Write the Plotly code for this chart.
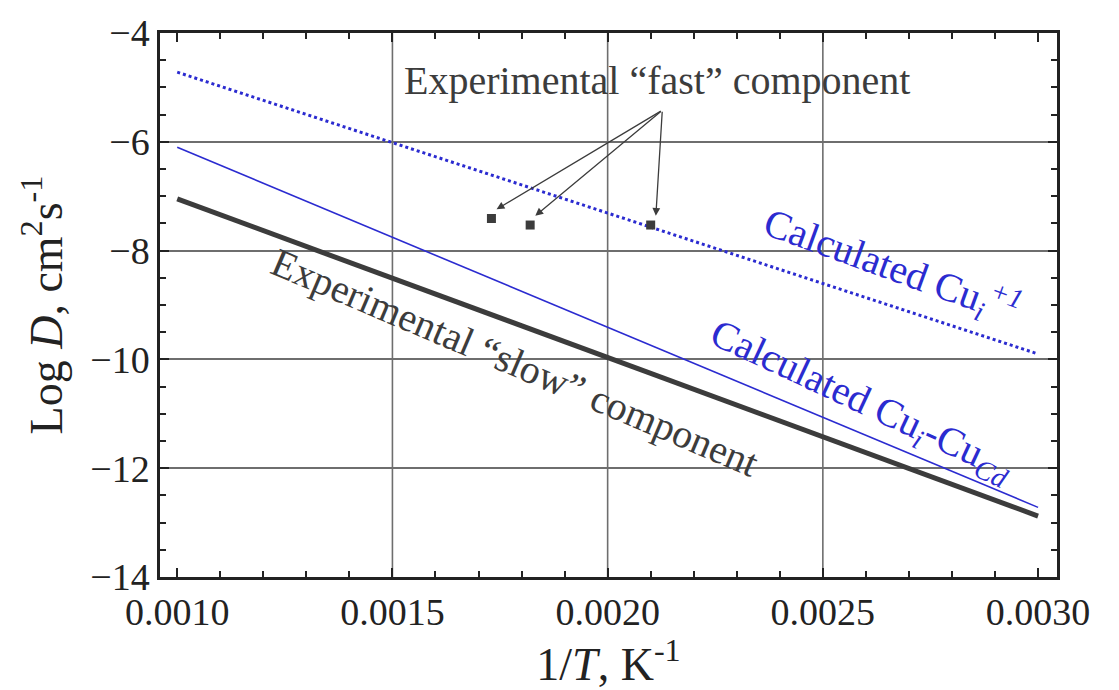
import plotly.graph_objects as go

# Data
x_line = [0.0010, 0.0030]
cu_plus1 = [-4.72, -9.90]
cu_cd = [-6.10, -12.72]
slow = [-7.05, -12.88]
fast_x = [0.00173, 0.00182, 0.00210]
fast_y = [-7.41, -7.53, -7.53]
x_ticks = [0.0010, 0.0015, 0.0020, 0.0025, 0.0030]
x_tick_labels = ["0.0010", "0.0015", "0.0020", "0.0025", "0.0030"]
x_grid = [0.0015, 0.0020, 0.0025]
y_ticks = [-4, -6, -8, -10, -12, -14]

FONT = "Liberation Serif"
BLUE = "#2b2bd0"
DARK = "#3c3c3c"
AX = "#222222"
GRID = "#6e6e6e"

fig = go.Figure()
fig.add_trace(go.Scatter(x=x_line, y=cu_plus1, mode="lines",
                         line=dict(color=BLUE, width=3, dash="dot")))
fig.add_trace(go.Scatter(x=x_line, y=cu_cd, mode="lines",
                         line=dict(color=BLUE, width=1.6)))
fig.add_trace(go.Scatter(x=x_line, y=slow, mode="lines",
                         line=dict(color=DARK, width=5)))
fig.add_trace(go.Scatter(x=fast_x, y=fast_y, mode="markers",
                         marker=dict(symbol="square", size=9, color=DARK)))

# vertical grid lines (only interior ones, as in reference)
for gx in x_grid:
    fig.add_shape(type="line", xref="x", yref="paper", x0=gx, x1=gx, y0=0, y1=1,
                  line=dict(color=GRID, width=1.6), layer="below")

# arrows from text to the fast points
tail_x, tail_y = 0.002127, -5.42
for hx, hy in zip(fast_x, fast_y):
    fig.add_annotation(x=hx + 0.000012, y=hy + 0.17, ax=tail_x, ay=tail_y,
                       xref="x", yref="y", axref="x", ayref="y",
                       showarrow=True, arrowhead=2, arrowsize=1.2, arrowwidth=1.3,
                       arrowcolor=DARK, text="")

fig.add_annotation(x=0.002115, y=-4.88, xref="x", yref="y",
                   text="Experimental \u201cfast\u201d component", showarrow=False,
                   font=dict(family=FONT, size=40, color=DARK))
fig.add_annotation(x=0.001785, y=-10.05, xref="x", yref="y",
                   text="Experimental \u201cslow\u201d component", showarrow=False,
                   textangle=23, font=dict(family=FONT, size=40, color=DARK))
fig.add_annotation(x=0.002660, y=-8.28, xref="x", yref="y",
                   text="Calculated Cu<sub><i>i</i></sub><sup><i>+1</i></sup>", showarrow=False,
                   textangle=20, font=dict(family=FONT, size=40, color=BLUE))
fig.add_annotation(x=0.002590, y=-10.78, xref="x", yref="y",
                   text="Calculated Cu<sub><i>i</i></sub>-Cu<sub><i>Cd</i></sub>", showarrow=False,
                   textangle=25, font=dict(family=FONT, size=40, color=BLUE))

fig.update_layout(
    width=1119, height=690,
    margin=dict(l=160, r=62, t=22, b=113),
    paper_bgcolor="white", plot_bgcolor="white",
    showlegend=False,
    font=dict(family=FONT, size=38, color=AX),
)
fig.update_xaxes(
    range=[0.00096, 0.003044],
    tickvals=x_ticks, ticktext=x_tick_labels,
    showgrid=False,
    showline=True, linecolor=AX, linewidth=2.5, mirror="allticks",
    ticks="inside", ticklen=9, tickwidth=2, tickcolor=AX,
    minor=dict(dtick=0.0001, ticks="inside", ticklen=6, tickwidth=1.5,
               tickcolor=AX, showgrid=False),
    tickfont=dict(family=FONT, size=38, color=AX),
    title=dict(text="1/<i>T</i>, K<sup>-1</sup>", font=dict(family=FONT, size=46, color=AX),
               standoff=4),
    zeroline=False,
)
fig.update_yaxes(
    range=[-14, -4],
    tickvals=y_ticks,
    showgrid=True, gridcolor=GRID, gridwidth=1.6,
    showline=True, linecolor=AX, linewidth=2.5, mirror="allticks",
    ticks="inside", ticklen=9, tickwidth=2, tickcolor=AX,
    minor=dict(dtick=0.5, ticks="inside", ticklen=6, tickwidth=1.5,
               tickcolor=AX, showgrid=False),
    tickfont=dict(family=FONT, size=38, color=AX),
    title=dict(text="Log <i>D</i>, cm<sup>2</sup>s<sup>-1</sup>",
               font=dict(family=FONT, size=46, color=AX), standoff=14),
    zeroline=False,
)

fig.write_html("out.html")
